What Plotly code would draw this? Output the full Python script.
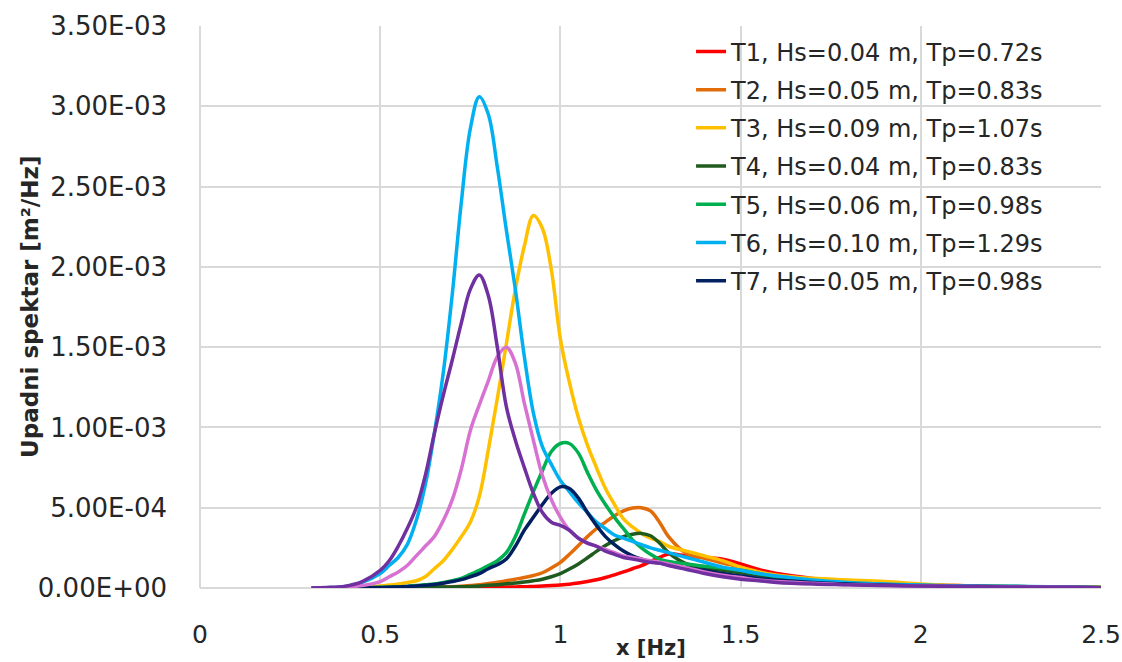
import plotly.graph_objects as go

# Frequency grid [Hz]
freq = [0.31, 0.35, 0.40, 0.45, 0.50, 0.525, 0.55, 0.575, 0.60, 0.625, 0.65, 0.675,
        0.70, 0.725, 0.75, 0.775, 0.80, 0.825, 0.85, 0.875, 0.90, 0.925, 0.95, 0.975,
        1.00, 1.025, 1.05, 1.075, 1.10, 1.125, 1.15, 1.175, 1.20, 1.225, 1.25, 1.275,
        1.30, 1.35, 1.40, 1.45, 1.50, 1.55, 1.60, 1.70, 1.80, 1.90, 2.00, 2.10, 2.20,
        2.30, 2.40, 2.50]

# Spectral density values in units of 1E-03 m^2/Hz
T1 = [0, 0, 0, 0.001, 0.001, 0.001, 0.001, 0.002, 0.002, 0.002, 0.002, 0.003,
      0.003, 0.003, 0.004, 0.004, 0.005, 0.005, 0.006, 0.007, 0.008, 0.010, 0.012, 0.015,
      0.019, 0.024, 0.031, 0.040, 0.051, 0.065, 0.082, 0.100, 0.120, 0.140, 0.165, 0.190,
      0.212, 0.200, 0.190, 0.180, 0.150, 0.115, 0.090, 0.060, 0.040, 0.030, 0.020, 0.015, 0.011,
      0.008, 0.005, 0.003]
T2 = [0, 0, 0.001, 0.001, 0.002, 0.002, 0.003, 0.003, 0.004, 0.005, 0.005, 0.006,
      0.008, 0.011, 0.015, 0.020, 0.028, 0.036, 0.045, 0.055, 0.065, 0.078, 0.095, 0.125,
      0.160, 0.210, 0.265, 0.320, 0.370, 0.410, 0.450, 0.480, 0.498, 0.500, 0.480, 0.410,
      0.320, 0.215, 0.185, 0.155, 0.130, 0.100, 0.080, 0.050, 0.035, 0.025, 0.018, 0.013, 0.010,
      0.007, 0.005, 0.003]
T3 = [0, 0, 0.002, 0.006, 0.012, 0.018, 0.025, 0.035, 0.045, 0.07, 0.12, 0.17,
      0.24, 0.32, 0.41, 0.57, 0.86, 1.18, 1.52, 1.86, 2.13, 2.32, 2.24, 1.98,
      1.55, 1.28, 1.06, 0.89, 0.75, 0.62, 0.52, 0.43, 0.38, 0.34, 0.31, 0.29,
      0.26, 0.23, 0.20, 0.17, 0.13, 0.10, 0.08, 0.06, 0.05, 0.04, 0.025, 0.015, 0.010,
      0.008, 0.006, 0.004]
T4 = [0, 0, 0, 0.001, 0.001, 0.002, 0.002, 0.003, 0.003, 0.004, 0.005, 0.006,
      0.007, 0.008, 0.010, 0.013, 0.017, 0.021, 0.026, 0.031, 0.037, 0.045, 0.055, 0.070,
      0.090, 0.118, 0.150, 0.188, 0.228, 0.265, 0.295, 0.320, 0.335, 0.340, 0.325, 0.280,
      0.220, 0.150, 0.125, 0.110, 0.095, 0.080, 0.065, 0.045, 0.030, 0.022, 0.016, 0.012, 0.009,
      0.007, 0.005, 0.003]
T5 = [0, 0, 0.001, 0.002, 0.004, 0.006, 0.008, 0.010, 0.015, 0.020, 0.025, 0.035,
      0.045, 0.060, 0.085, 0.110, 0.140, 0.170, 0.220, 0.320, 0.460, 0.600, 0.730, 0.850,
      0.900, 0.900, 0.840, 0.720, 0.610, 0.520, 0.440, 0.370, 0.300, 0.250, 0.210, 0.180,
      0.165, 0.150, 0.135, 0.125, 0.110, 0.090, 0.070, 0.045, 0.030, 0.020, 0.015, 0.012, 0.010,
      0.008, 0.005, 0.003]
T6 = [0, 0.002, 0.008, 0.035, 0.09, 0.14, 0.19, 0.27, 0.42, 0.64, 0.96, 1.34,
      1.83, 2.40, 2.86, 3.06, 2.95, 2.62, 2.23, 1.86, 1.44, 1.09, 0.88, 0.77,
      0.67, 0.60, 0.53, 0.47, 0.41, 0.37, 0.33, 0.31, 0.29, 0.27, 0.25, 0.235,
      0.22, 0.19, 0.16, 0.13, 0.11, 0.09, 0.075, 0.05, 0.035, 0.025, 0.018, 0.014, 0.011,
      0.010, 0.006, 0.002]
T7 = [0, 0, 0.001, 0.002, 0.003, 0.005, 0.007, 0.010, 0.013, 0.017, 0.022, 0.030,
      0.040, 0.052, 0.070, 0.090, 0.120, 0.145, 0.180, 0.260, 0.360, 0.440, 0.520, 0.590,
      0.630, 0.620, 0.560, 0.470, 0.390, 0.320, 0.270, 0.230, 0.200, 0.180, 0.165, 0.155,
      0.145, 0.125, 0.110, 0.090, 0.075, 0.060, 0.050, 0.035, 0.025, 0.018, 0.013, 0.010, 0.008,
      0.006, 0.004, 0.002]
T8 = [0, 0.001, 0.005, 0.015, 0.04, 0.07, 0.10, 0.14, 0.20, 0.26, 0.32, 0.42,
      0.55, 0.74, 0.98, 1.14, 1.29, 1.44, 1.50, 1.40, 1.15, 0.92, 0.70, 0.55,
      0.44, 0.36, 0.31, 0.28, 0.26, 0.24, 0.22, 0.20, 0.19, 0.18, 0.17, 0.16,
      0.15, 0.125, 0.10, 0.08, 0.065, 0.05, 0.04, 0.03, 0.02, 0.015, 0.012, 0.010, 0.008,
      0.006, 0.004, 0.002]
T9 = [0, 0.003, 0.010, 0.040, 0.11, 0.17, 0.26, 0.37, 0.50, 0.70, 0.96, 1.20,
      1.42, 1.65, 1.86, 1.95, 1.82, 1.50, 1.13, 0.92, 0.75, 0.59, 0.47, 0.41,
      0.39, 0.36, 0.31, 0.28, 0.26, 0.23, 0.21, 0.19, 0.18, 0.17, 0.16, 0.155,
      0.14, 0.115, 0.09, 0.07, 0.055, 0.045, 0.035, 0.025, 0.02, 0.015, 0.012, 0.010, 0.008,
      0.006, 0.004, 0.002]

series = [T1, T2, T3, T4, T5, T6, T7, T8, T9]
names = ["T1, Hs=0.04 m, Tp=0.72s", "T2, Hs=0.05 m, Tp=0.83s", "T3, Hs=0.09 m, Tp=1.07s",
         "T4, Hs=0.04 m, Tp=0.83s", "T5, Hs=0.06 m, Tp=0.98s", "T6, Hs=0.10 m, Tp=1.29s",
         "T7, Hs=0.05 m, Tp=0.98s", "T8", "T9"]
show_in_legend = [True, True, True, True, True, True, True, False, False]
colors = ["#FF0000", "#E36C0A", "#FFC000", "#1F5A1F", "#00B050", "#00B0F0", "#002060",
          "#D872D2", "#7030A0"]

y_tick_vals = [0, 0.5e-3, 1.0e-3, 1.5e-3, 2.0e-3, 2.5e-3, 3.0e-3, 3.5e-3]
y_tick_text = ["0.00E+00", "5.00E-04", "1.00E-03", "1.50E-03", "2.00E-03", "2.50E-03",
               "3.00E-03", "3.50E-03"]
x_tick_vals = [0, 0.5, 1, 1.5, 2, 2.5]
x_tick_text = ["0", "0.5", "1", "1.5", "2", "2.5"]
x_title = "x [Hz]"
y_title = "Upadni spektar [m²/Hz]"

FONT = "DejaVu Sans"
GRID = "#D9D9D9"
TXT = "#262626"

fig = go.Figure()
for i, (s, n, c, sl) in enumerate(zip(series, names, colors, show_in_legend)):
    fig.add_trace(go.Scatter(
        x=freq, y=[v * 1e-3 for v in s], mode="lines", name=n, showlegend=sl,
        legendgroup="g%d" % i,
        line=dict(color=c, width=3.5, shape="spline", smoothing=1.0),
    ))

# white legend backdrop hiding the gridlines behind the legend
fig.add_shape(type="rect", xref="paper", yref="paper",
              x0=0.5216, x1=1.004, y0=0.509, y1=0.9875,
              fillcolor="white", line=dict(width=0), layer="between")

# axis titles
fig.add_annotation(text="<b>%s</b>" % y_title, xref="paper", yref="paper",
                   x=-0.1887, y=0.5, xanchor="center", yanchor="middle", textangle=-90,
                   showarrow=False, font=dict(family=FONT, size=23, color=TXT))
fig.add_annotation(text="<b>%s</b>" % x_title, xref="paper", yref="paper",
                   x=0.5, y=-0.1068, xanchor="center", yanchor="middle",
                   showarrow=False, font=dict(family=FONT, size=21, color=TXT))

fig.update_layout(
    width=1122, height=662,
    margin=dict(l=200, r=21, t=26, b=74),
    paper_bgcolor="white", plot_bgcolor="white",
    font=dict(family=FONT, size=24, color=TXT),
    showlegend=True,
    legend=dict(
        x=0.545, y=0.994, xanchor="left", yanchor="top",
        bgcolor="rgba(0,0,0,0)", borderwidth=0,
        font=dict(family=FONT, size=24, color=TXT),
        traceorder="grouped", tracegroupgap=4,
    ),
    xaxis=dict(
        range=[0, 2.5], tickvals=x_tick_vals, ticktext=x_tick_text,
        showgrid=True, gridcolor=GRID, gridwidth=2,
        zeroline=True, zerolinecolor=GRID, zerolinewidth=2, showline=False,
        ticks="", ticklabelstandoff=29, automargin=False,
        tickfont=dict(family=FONT, size=25, color=TXT),
    ),
    yaxis=dict(
        range=[0, 3.5e-3], tickvals=y_tick_vals, ticktext=y_tick_text,
        showgrid=True, gridcolor=GRID, gridwidth=2,
        zeroline=True, zerolinecolor=GRID, zerolinewidth=2, showline=False,
        ticks="", ticklabelstandoff=32, automargin=False,
        tickfont=dict(family=FONT, size=26, color=TXT),
    ),
)

fig.write_html("out.html", config={"displayModeBar": False},
               post_script="document.body.style.margin='0';")
